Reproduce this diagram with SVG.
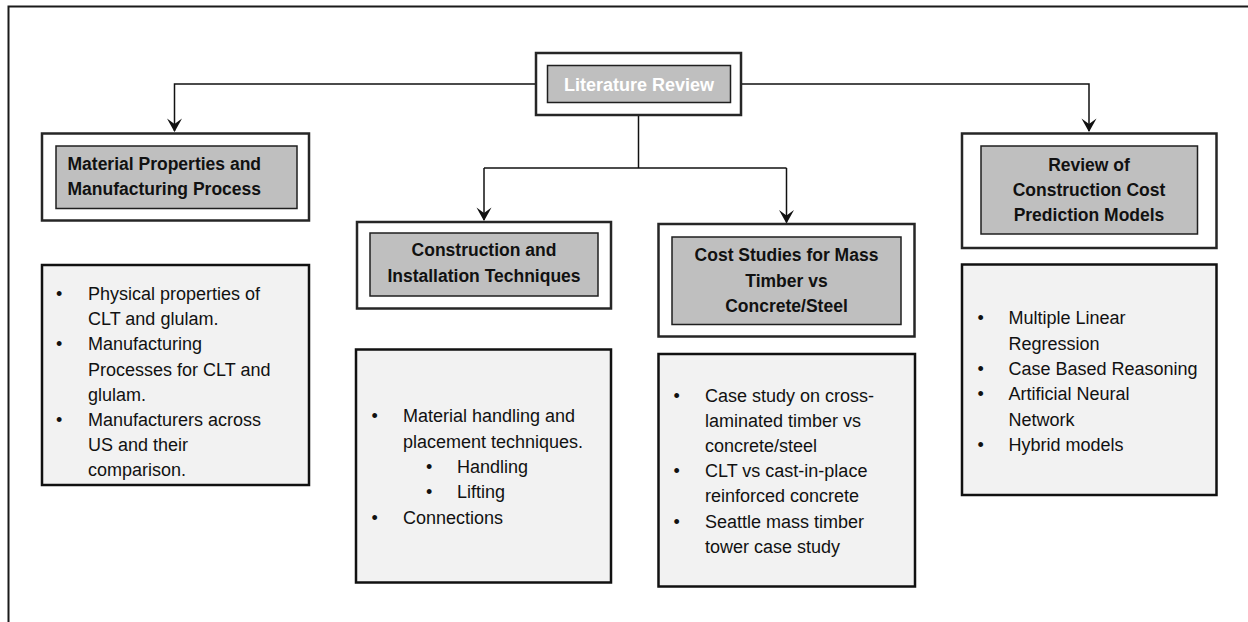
<svg xmlns="http://www.w3.org/2000/svg" width="1248" height="622" viewBox="0 0 1248 622">
  <style>
    .frame { fill: none; stroke: #1a1a1a; stroke-width: 2; }
    .outer { fill: #ffffff; stroke: #262626; stroke-width: 2.5; }
    .inner { fill: #bfbfbf; stroke: #1f1f1f; stroke-width: 1.5; }
    .list { fill: #f2f2f2; stroke: #111111; stroke-width: 2.5; }
    .head { font-family: "Liberation Sans", Arial, sans-serif; font-weight: bold; font-size: 17.5px; fill: #111111; }
    .title { font-family: "Liberation Sans", Arial, sans-serif; font-weight: bold; font-size: 18px; fill: #ffffff; }
    .body { font-family: "Liberation Sans", Arial, sans-serif; font-size: 18px; fill: #111111; }
    .wire { fill: none; stroke: #111111; stroke-width: 1.5; }
  </style>
  <defs>
    <marker id="arrow" viewBox="0 0 16 14" refX="8" refY="14" markerWidth="16" markerHeight="14" markerUnits="userSpaceOnUse" orient="auto-start-reverse">
      <path d="M8 14 L0.5 0.5 L8 6 L15.5 0.5 Z" fill="#111111"/>
    </marker>
  </defs>

  <rect width="1248" height="622" fill="#ffffff"/>
  <!-- page frame (left and top edges) -->
  <path class="frame" d="M8.5 622 V6.5 H1248"/>

  <!-- connectors -->
  <g id="connectors">
    <path class="wire" d="M536 84 H174.5 V131"/>
    <path class="wire" d="M741 84 H1089 V131"/>
    <path class="wire" d="M638.5 115 V168"/>
    <path class="wire" d="M484 168 H786.5"/>
    <path class="wire" d="M484 168 V220"/>
    <path class="wire" d="M786.5 168 V222.5"/>
    <path d="M174.5 132 L167 118.5 L174.5 124 L182 118.5 Z" fill="#111111"/>
    <path d="M1089 132 L1081.5 118.5 L1089 124 L1096.5 118.5 Z" fill="#111111"/>
    <path d="M484 221 L476.5 207.5 L484 213 L491.5 207.5 Z" fill="#111111"/>
    <path d="M786.5 223.5 L779 210 L786.5 215.5 L794 210 Z" fill="#111111"/>
  </g>

  <!-- root -->
  <g id="literature-review">
    <rect class="outer" x="536" y="53" width="205" height="62"/>
    <rect class="inner" x="547.5" y="65.5" width="183" height="37"/>
    <text class="title" x="639" y="90.5" text-anchor="middle">Literature Review</text>
  </g>

  <!-- branch 1 -->
  <g id="material-properties">
    <rect class="outer" x="42" y="133.5" width="267" height="87"/>
    <rect class="inner" x="56" y="146" width="241" height="62.5"/>
    <text class="head" x="67.5" y="169.5">Material Properties and</text>
    <text class="head" x="67.5" y="195">Manufacturing Process</text>
  </g>
  <g id="material-properties-list">
    <rect class="list" x="42" y="265" width="267" height="220"/>
    <g class="body">
      <text x="56" y="299.5">•</text><text x="88" y="299.5">Physical properties of</text>
      <text x="88" y="324.5">CLT and glulam.</text>
      <text x="56" y="350">•</text><text x="88" y="350">Manufacturing</text>
      <text x="88" y="375.5">Processes for CLT and</text>
      <text x="88" y="400.5">glulam.</text>
      <text x="56" y="425.5">•</text><text x="88" y="425.5">Manufacturers across</text>
      <text x="88" y="451">US and their</text>
      <text x="88" y="476">comparison.</text>
    </g>
  </g>

  <!-- branch 2 -->
  <g id="construction-techniques">
    <rect class="outer" x="357" y="222" width="254" height="86.5"/>
    <rect class="inner" x="370" y="233" width="228" height="63"/>
    <text class="head" x="484" y="255.5" text-anchor="middle">Construction and</text>
    <text class="head" x="484" y="282" text-anchor="middle">Installation Techniques</text>
  </g>
  <g id="construction-techniques-list">
    <rect class="list" x="356" y="349.5" width="255" height="233"/>
    <g class="body">
      <text x="371.5" y="422">•</text><text x="403" y="422">Material handling and</text>
      <text x="403" y="447.5">placement techniques.</text>
      <text x="426" y="472.5">•</text><text x="457" y="472.5">Handling</text>
      <text x="426" y="498">•</text><text x="457" y="498">Lifting</text>
      <text x="371.5" y="523.5">•</text><text x="403" y="523.5">Connections</text>
    </g>
  </g>

  <!-- branch 3 -->
  <g id="cost-studies">
    <rect class="outer" x="658.5" y="224" width="256" height="112.5"/>
    <rect class="inner" x="672" y="237" width="229" height="87.5"/>
    <text class="head" x="786.5" y="261" text-anchor="middle">Cost Studies for Mass</text>
    <text class="head" x="786.5" y="286.5" text-anchor="middle">Timber vs</text>
    <text class="head" x="786.5" y="311.5" text-anchor="middle">Concrete/Steel</text>
  </g>
  <g id="cost-studies-list">
    <rect class="list" x="658.5" y="354" width="256.5" height="232.5"/>
    <g class="body">
      <text x="673.5" y="401.5">•</text><text x="705" y="401.5">Case study on cross-</text>
      <text x="705" y="427">laminated timber vs</text>
      <text x="705" y="452">concrete/steel</text>
      <text x="673.5" y="477">•</text><text x="705" y="477">CLT vs cast-in-place</text>
      <text x="705" y="502">reinforced concrete</text>
      <text x="673.5" y="527.5">•</text><text x="705" y="527.5">Seattle mass timber</text>
      <text x="705" y="553">tower case study</text>
    </g>
  </g>

  <!-- branch 4 -->
  <g id="cost-prediction-models">
    <rect class="outer" x="962" y="133.5" width="254.5" height="114.5"/>
    <rect class="inner" x="981" y="146" width="216.5" height="88"/>
    <text class="head" x="1089" y="171" text-anchor="middle">Review of</text>
    <text class="head" x="1089" y="196" text-anchor="middle">Construction Cost</text>
    <text class="head" x="1089" y="221" text-anchor="middle">Prediction Models</text>
  </g>
  <g id="cost-prediction-models-list">
    <rect class="list" x="962" y="264.5" width="254.5" height="230.5"/>
    <g class="body">
      <text x="977.5" y="324">•</text><text x="1008.5" y="324">Multiple Linear</text>
      <text x="1008.5" y="349.5">Regression</text>
      <text x="977.5" y="375">•</text><text x="1008.5" y="375">Case Based Reasoning</text>
      <text x="977.5" y="400">•</text><text x="1008.5" y="400">Artificial Neural</text>
      <text x="1008.5" y="425.5">Network</text>
      <text x="977.5" y="450.5">•</text><text x="1008.5" y="450.5">Hybrid models</text>
    </g>
  </g>
</svg>
